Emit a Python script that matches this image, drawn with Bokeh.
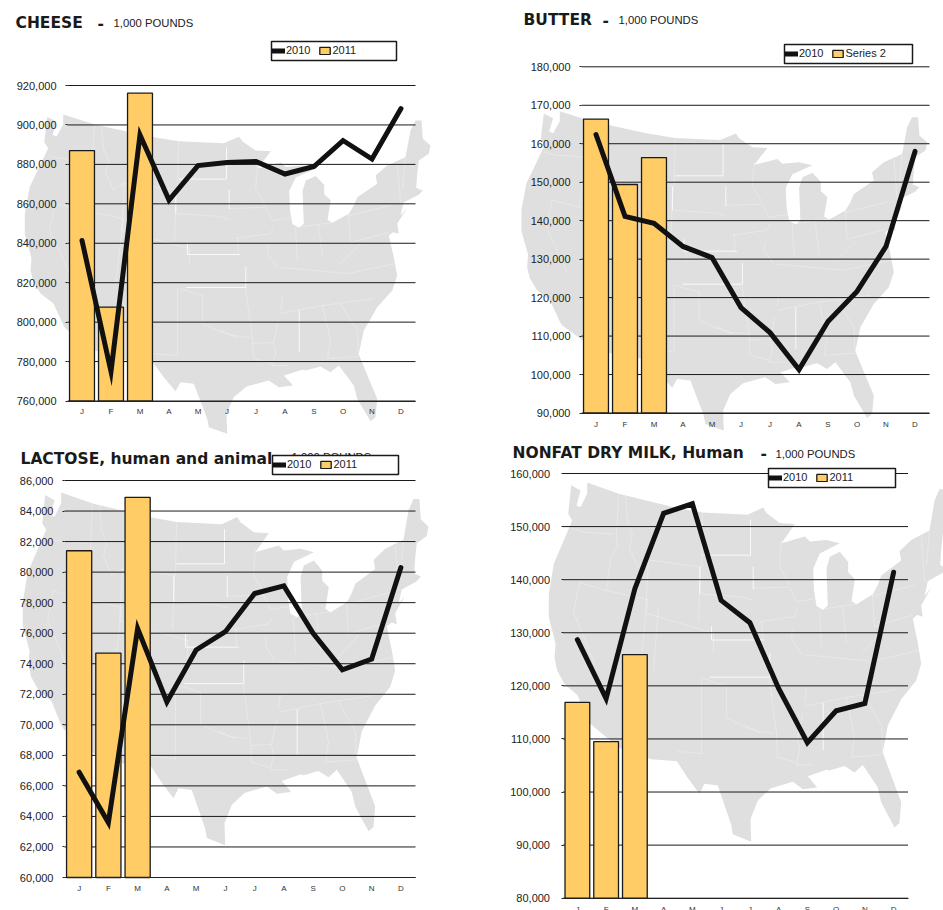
from bokeh.core.properties import value
from bokeh.embed import file_html
from bokeh.layouts import column, row
from bokeh.models import (FixedTicker, Legend, LegendItem, LinearAxis,
                          NumeralTickFormatter, Range1d)
from bokeh.plotting import figure
from bokeh.resources import INLINE

MONTHS = ["J", "F", "M", "A", "M", "J", "J", "A", "S", "O", "N", "D"]

# Monthly production, 1,000 pounds
CHEESE_2010 = [841400, 775000, 894900, 861900, 879400, 880900, 881500, 875100, 878900, 892100, 882700, 908300]
CHEESE_2011 = [887000, 807600, 916100]
BUTTER_2010 = [162400, 141100, 139300, 133300, 130400, 117400, 110900, 101300, 113800, 121600, 133300, 158000]
BUTTER_2011 = [166400, 149400, 156400]
LACTOSE_2010 = [66900, 63600, 76300, 71500, 74900, 76100, 78600, 79100, 76000, 73600, 74300, 80300]
LACTOSE_2011 = [81400, 74700, 84900]
NFDM_2010 = [128700, 117600, 138300, 152500, 154300, 136100, 131900, 119500, 109300, 115300, 116700, 141400]
NFDM_2011 = [116900, 109500, 125900]

CHEESE_TICKS = list(range(760000, 920001, 20000))
BUTTER_TICKS = list(range(90000, 180001, 10000))
LACTOSE_TICKS = list(range(60000, 86001, 2000))
NFDM_TICKS = list(range(80000, 160001, 10000))

# Backdrop map of the lower 48 states, in map units
US_OUTLINE = [
    (46.7, 116.4), (56, 121), (52, 134.4), (56, 136), (62.7, 124), (62.7, 114), (94.3, 124), (149.3, 136),
    (178, 140.7), (223, 142.7), (238.7, 136.3), (242, 141), (255.3, 150), (270.3, 150.8), (257, 167.9),
    (280.3, 161.9), (285.3, 166.5), (302, 165), (315.3, 168), (295.3, 177), (288.7, 190.6), (289.5, 210),
    (292, 223.8), (298.7, 227), (303.3, 223.3), (302, 190.6), (305.3, 180), (315.3, 175.5), (323.7, 184.6),
    (323.7, 193.7), (330.3, 199.7), (327, 219.3), (332, 222.3), (348.3, 213.3), (353.3, 205), (356.7, 196.7),
    (376.7, 183.3), (375, 175), (386.7, 165), (405, 156.7), (410, 130), (415, 120), (421, 120), (422.3, 138.3),
    (430, 145), (428.3, 153.3), (418.3, 160), (416.7, 173.3), (415.7, 187.3), (422.3, 190), (418.3, 194.3),
    (403.3, 201.7), (400, 215), (406.7, 207.3), (396.7, 223.3), (398.3, 233.3), (392.7, 231.7), (388.3, 235),
    (393.3, 256.7), (396.7, 275), (391.7, 290), (376.7, 306.7), (363.3, 330), (358.3, 353.3), (360, 358.3),
    (376.7, 398.3), (375, 416.7), (370, 420.7), (356.7, 398.3), (353.3, 385), (338.3, 365), (330, 371.7),
    (320, 366), (305, 370), (301.7, 369.3), (283.3, 375), (292.7, 385), (278.3, 386.7), (268.3, 380), (246, 386),
    (233.3, 396.7), (226, 413.3), (226.7, 433.3), (208.3, 426.7), (206.7, 418.3), (193.3, 383.3), (180, 381.7),
    (175, 390.7), (163.3, 376.7), (152.3, 361.7), (126.7, 360), (95, 350), (65, 328), (63, 325), (53, 303),
    (40, 293), (32.7, 281), (30, 270), (31, 257.4), (24.3, 233.7), (24.3, 213), (29.3, 186.3), (47.7, 147.8),
    (43.7, 141.8),
]
# State borders that barely show against the grey
FAINT_BORDERS = [
    [(47.7, 155), (59, 158), (89, 160)], [(94, 124), (92, 160)], [(92, 160), (93, 171), (86, 181), (82, 210)],
    [(55, 203), (82, 210), (123, 218)], [(101, 124), (103, 148), (108, 161), (105, 172), (113, 189), (124, 183)],
    [(124, 183), (176, 189)], [(178, 141), (177, 189)], [(124, 183), (121, 230)], [(121, 230), (189, 248), (189, 265)],
    [(176, 189), (174, 238)], [(134, 226), (129, 281)], [(55, 203), (49, 229), (70, 275)], [(123, 218), (115, 285)],
    [(176, 213), (220, 216), (229, 219)], [(228, 208), (265, 207), (272, 220)],
    [(235, 238), (270, 233), (273, 227)], [(257, 165), (255, 188), (265, 205)], [(272, 220), (291.7, 217)],
    [(237, 237), (238, 253)], [(295, 228), (297, 260)], [(268, 245), (267, 253), (277, 267)], [(318, 224), (322, 257)],
    [(295, 227), (332, 222)], [(280, 267), (347, 273)], [(348, 213), (350, 243)], [(348, 215), (390, 205)],
    [(350, 242), (388, 232)], [(338, 265), (360, 243)], [(347, 273), (395, 263)], [(400, 203), (397, 163)],
    [(405, 158), (402, 188)], [(280, 313), (322, 305), (373, 298)],
    [(322, 305), (330, 340), (327, 358)], [(327, 358), (358, 356)], [(340, 303), (345, 312), (357, 330), (358, 356)],
    [(278, 320), (273, 342), (275, 352), (272, 365), (288, 365)], [(252, 343), (273, 342)],
    [(252, 338), (253, 358), (272, 363)], [(220, 330), (233, 335), (250, 337)], [(280, 309), (282, 297)],
    [(178, 288), (202, 295), (202, 323), (217, 330), (237, 337)], [(177, 288), (177, 355)], [(153, 353), (177, 355)],
    [(245, 288), (252, 338)],
]
# Borders that stand out clearly
BRIGHT_BORDERS = [
    [(178, 178.6), (226, 178.6), (226, 147)], [(175.3, 189), (175.3, 213)], [(228.7, 189), (228.7, 208.7)],
    [(187, 242), (187, 254), (240, 254)], [(185.3, 287), (245.3, 287), (245.3, 266)], [(298.7, 310), (298.7, 352)],
]
MAP_GREY = "#DFDFDF"
BAR_GOLD = "#FFCC66"
INK = "#111111"
W1, W2, H1, H2 = 470, 473, 440, 470


def xs_of(lines):
    return [[a for a, _ in s] for s in lines]


def ys_of(lines):
    return [[b for _, b in s] for s in lines]


def add_panel(cell, frame, ticks, line_values, bar_values, map_place, bar_label, title, title_xy, dash_x,
              units_xy, legend_box, y_standoff=9, x_standoff=6):
    cl, ct, cw, ch = cell
    left, right, top, bottom = frame
    step = (right - left) / 12
    per_px = (ticks[-1] - ticks[0]) / (bottom - top)
    p = figure(
        width=cw, height=ch, output_backend="svg", toolbar_location=None, min_border=0,
        x_axis_location=None, y_axis_location=None, outline_line_color=None,
        x_range=Range1d(-0.5 - (left - cl) / step, -0.5 + (cl + cw - left) / step),
        y_range=Range1d(ticks[0] - (ct + ch - bottom) * per_px, ticks[0] + (bottom - ct) * per_px),
    )
    p.xgrid.visible = False
    p.ygrid.visible = False

    ox, oy, sx, sy = map_place
    p.extra_x_ranges["map"] = Range1d((cl - ox) / sx, (cl + cw - ox) / sx)
    p.extra_y_ranges["map"] = Range1d((ct + ch - oy) / sy, (ct - oy) / sy)
    p.extra_x_ranges["page"] = Range1d(cl, cl + cw)
    p.extra_y_ranges["page"] = Range1d(ct + ch, ct)

    p.patch([a for a, _ in US_OUTLINE], [b for _, b in US_OUTLINE], fill_color=MAP_GREY, line_color=None,
            x_range_name="map", y_range_name="map")
    p.multi_line(xs_of(FAINT_BORDERS), ys_of(FAINT_BORDERS), line_color="white", line_width=0.7, line_alpha=0.4,
                 x_range_name="map", y_range_name="map")
    p.multi_line(xs_of(BRIGHT_BORDERS), ys_of(BRIGHT_BORDERS), line_color="white", line_width=0.9, line_alpha=0.9,
                 x_range_name="map", y_range_name="map")

    # Value lines stop at the ends of the month axis
    p.segment(x0=[-0.5] * len(ticks), x1=[11.5] * len(ticks), y0=ticks, y1=ticks, line_color="#1a1a1a", line_width=1)

    bars = p.vbar(x=list(range(len(bar_values))), top=bar_values, bottom=ticks[0], width=0.86,
                  fill_color=BAR_GOLD, line_color="#1a1a1a", line_width=1.3)
    line = p.line(list(range(12)), line_values, line_color=INK, line_width=5, line_join="miter", line_cap="round")

    yaxis = LinearAxis(fixed_location=-0.5, ticker=FixedTicker(ticks=ticks), bounds=(ticks[0], ticks[-1]),
                       formatter=NumeralTickFormatter(format="0,0"))
    yaxis.major_label_text_font = "Liberation Sans"
    yaxis.major_label_text_font_size = "11px"
    yaxis.major_label_text_color = "#222222"
    yaxis.major_label_standoff = y_standoff
    yaxis.major_tick_line_color = "#222222"
    yaxis.major_tick_in = 0
    yaxis.major_tick_out = 2
    yaxis.minor_tick_line_color = None
    yaxis.axis_line_color = None
    p.add_layout(yaxis, "left")

    xaxis = LinearAxis(fixed_location=ticks[0], ticker=FixedTicker(ticks=list(range(12))), bounds=(-0.5, 11.5),
                       major_label_overrides=dict(enumerate(MONTHS)))
    xaxis.major_label_text_font = "Liberation Sans"
    xaxis.major_label_text_font_size = "8px"
    xaxis.major_label_text_color = "#333333"
    xaxis.major_label_standoff = x_standoff
    xaxis.major_tick_in = 0
    xaxis.major_tick_out = 0
    xaxis.major_tick_line_color = None
    xaxis.minor_tick_line_color = None
    xaxis.axis_line_color = "#222222"
    p.add_layout(xaxis, "below")

    # Heading words are placed by their vertical middle
    headings = [(title, title_xy[0], title_xy[1])]
    if dash_x is not None:
        headings.append(("-", dash_x, title_xy[1]))
    for words, hx, hy in headings:
        p.text([hx], [hy], text=[words], text_font=value("DejaVu Sans"), text_font_style="bold",
               text_font_size="15.5px", text_color="#1a1a1a", text_baseline="middle",
               x_range_name="page", y_range_name="page")
    p.text([units_xy[0]], [units_xy[1]], text=["1,000 POUNDS"], text_font=value("Liberation Sans"),
           text_font_size="11.3px", text_color="#222222", text_baseline="middle",
           x_range_name="page", y_range_name="page")

    bl, bt, br, bb = legend_box
    p.quad(left=[bl], right=[br], top=[bt], bottom=[bb], fill_color="white", line_color="#1a1a1a", line_width=1.5,
           x_range_name="page", y_range_name="page")
    legend = Legend(
        items=[LegendItem(label="2010", renderers=[line]), LegendItem(label=bar_label, renderers=[bars])],
        orientation="horizontal", location=(bl - cl + 1, ct + ch - bb + 4), margin=0, padding=3, spacing=8,
        glyph_width=13, glyph_height=9, label_standoff=1, label_text_font="Liberation Sans",
        label_text_font_size="11px", label_text_color="#222222", background_fill_alpha=0,
        border_line_color=None, label_height=12,
    )
    p.add_layout(legend)
    return p


p1 = add_panel((0, 0, W1, H1), (67, 415, 85, 400.5), CHEESE_TICKS, CHEESE_2010, CHEESE_2011, (0, 0, 1, 1),
               "2011", "CHEESE", (15, 22.5), 97, (113, 22.5), (271, 41, 396, 60))
p2 = add_panel((W1, 0, W2, H1), (581, 929, 66.3, 412.5), BUTTER_TICKS, BUTTER_2010, BUTTER_2011, (496.6, -3.3, 1, 1),
               "Series 2", "BUTTER", (523, 19.5), 602, (618, 19.5), (784, 44, 912, 63), x_standoff=7)
p3 = add_panel((0, H1, W1, H2), (64, 415, 480, 877), LACTOSE_TICKS, LACTOSE_2010, LACTOSE_2011, (-2, 366, 1, 1.105),
               "2011", "LACTOSE, human and animal", (20, 458.5), None, (291, 456.5), (272, 455, 398, 474))
p4 = add_panel((W1, H1, W2, H2), (562.5, 907.5, 473, 897.7), NFDM_TICKS, NFDM_2010, NFDM_2011,
               (524, 353.75, 1, 1.125), "2011", "NONFAT DRY MILK,  Human", (512, 452.5), 760, (775, 453),
               (768, 468, 895, 487), y_standoff=11, x_standoff=7)

page = column(row(p1, p2, spacing=0), row(p3, p4, spacing=0), spacing=0)
open("out.html", "w").write(file_html(page, INLINE))
